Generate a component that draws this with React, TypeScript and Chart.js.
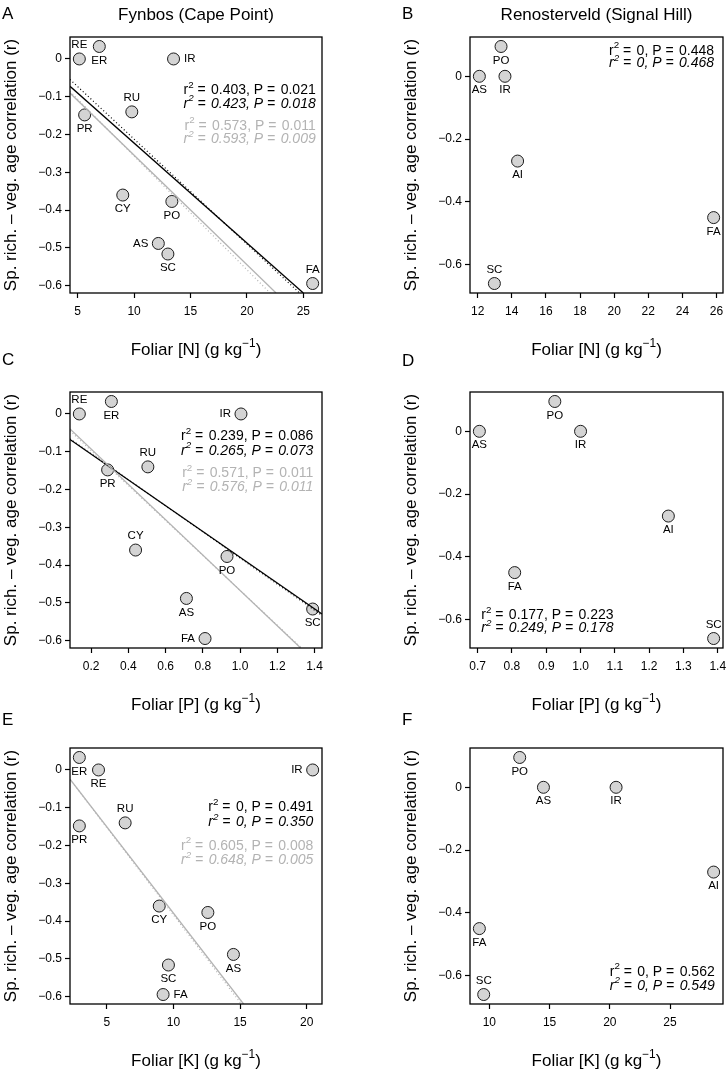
import React, { useEffect, useRef } from "react";
import { Chart, registerables } from "chart.js";
Chart.register(...registerables);

const FONT = '"Liberation Sans", Arial, Helvetica, sans-serif';
const GRAY = "#b3b3b3";

// ---------------- DATA ----------------
// Fynbos (Cape Point)
const fynTaxa = ["RE", "ER", "IR", "RU", "PR", "CY", "PO", "AS", "SC", "FA"];
const fynN = [5.15, 6.92, 13.5, 9.8, 5.62, 9.0, 13.35, 12.15, 13.0, 25.83];
const fynP = [0.137, 0.309, 1.005, 0.505, 0.289, 0.439, 0.93, 0.712, 1.39, 0.812];
const fynK = [4.37, 2.93, 20.45, 6.37, 2.93, 8.93, 12.58, 14.5, 9.62, 9.22];
const fynR = [0, 0.033, 0, -0.14, -0.148, -0.36, -0.377, -0.488, -0.516, -0.594];

// Renosterveld (Signal Hill)
const renTaxa = ["PO", "AS", "IR", "AI", "FA", "SC"];
const renN = [13.37, 12.1, 13.6, 14.34, 25.83, 12.98];
const renP = [0.925, 0.705, 1.0, 1.256, 0.808, 1.388];
const renK = [12.52, 14.49, 20.52, 28.62, 9.17, 9.53];
const renR = [0.095, 0, 0, -0.27, -0.45, -0.66];

// regression fits [intercept, slope]
const fitN_all = [0.042, -0.02644];
const fitN_allAlt = [0.0657, -0.02776];
const fitN_sub = [0.035, -0.02896];
const fitN_subAlt = [0.0438, -0.03006];
const fitP_all = [-0.038, -0.3412];
const fitP_allAlt = [-0.036, -0.345];
const fitP_sub = [0.0012, -0.468];
const fitP_subAlt = [-0.0043, -0.4622];
const fitK_sub = [0.0771, -0.04562];
const fitK_subAlt = [0.0784, -0.0462];

// statistics [r2, P]
const statA = [[0.403, 0.021], [0.423, 0.018], [0.573, 0.011], [0.593, 0.009]];
const statB = [[0, 0.448], [0, 0.468]];
const statC = [[0.239, 0.086], [0.265, 0.073], [0.571, 0.011], [0.576, 0.011]];
const statD = [[0.177, 0.223], [0.249, 0.178]];
const statE = [[0, 0.491], [0, 0.35], [0.605, 0.008], [0.648, 0.005]];
const statF = [[0, 0.562], [0, 0.549]];

// tick values
const xTicksA = [5, 10, 15, 20, 25];
const xTicksB = [12, 14, 16, 18, 20, 22, 24, 26];
const xTicksC = [0.2, 0.4, 0.6, 0.8, 1.0, 1.2, 1.4];
const xTicksD = [0.7, 0.8, 0.9, 1.0, 1.1, 1.2, 1.3, 1.4];
const xTicksE = [5, 10, 15, 20];
const xTicksF = [10, 15, 20, 25];
const yTicksFyn = [0, -0.1, -0.2, -0.3, -0.4, -0.5, -0.6];
const yTicksRen = [0, -0.2, -0.4, -0.6];

// ---------------- LAYOUT ----------------
type Pos = "a" | "b" | "l" | "r";
const posA: Pos[] = ["a", "b", "r", "a", "b", "b", "b", "l", "b", "a"];
const posC: Pos[] = ["a", "b", "l", "a", "b", "a", "b", "b", "b", "l"];
const posE: Pos[] = ["b", "b", "l", "a", "b", "b", "b", "b", "b", "r"];
const posRen: Pos[] = ["b", "b", "b", "b", "b", "a"];

const COLS = [
  { canvasLeft: 0, width: 364, boxL: 70, boxR: 322, letterX: 2, yTitleX: 9.5 },
  { canvasLeft: 364, width: 380, boxL: 470, boxR: 723, letterX: 402, yTitleX: 409.5 },
];
const ROWS = [
  { canvasTop: 0, height: 365, boxT: 37, boxB: 293 },
  { canvasTop: 340, height: 378, boxT: 392, boxB: 648 },
  { canvasTop: 695, height: 374, boxT: 748, boxB: 1004 },
];
const Y_AXIS_W = 40;
const X_AXIS_H = 30;

type Seg = { t: string; sup?: boolean; dx?: number };

function drawRich(
  ctx: CanvasRenderingContext2D,
  segs: Seg[],
  x: number,
  y: number,
  align: "left" | "right" | "center",
  size: number,
  italic: boolean,
  color: string
) {
  const f = (s: number) => `${italic ? "italic " : ""}${s}px ${FONT}`;
  ctx.save();
  ctx.fillStyle = color;
  ctx.textAlign = "left";
  ctx.textBaseline = "alphabetic";
  let w = 0;
  const widths = segs.map((sg) => {
    ctx.font = f(sg.sup ? size * 0.7 : size);
    const m = ctx.measureText(sg.t).width + (sg.dx || 0);
    w += m;
    return m;
  });
  let cx = align === "left" ? x : align === "right" ? x - w : x - w / 2;
  segs.forEach((sg, i) => {
    ctx.font = f(sg.sup ? size * 0.7 : size);
    ctx.fillText(sg.t, cx, sg.sup ? y - size * 0.45 : y);
    cx += widths[i];
  });
  ctx.restore();
}

function fmtStat(v: number) {
  return v === 0 ? "0" : v.toFixed(3);
}
function statSegs(r2: number, p: number): Seg[] {
  return [
    { t: "r" },
    { t: "2", sup: true },
    { t: " = ", dx: 1.5 },
    { t: `${fmtStat(r2)}, P` },
    { t: " = ", dx: 1.5 },
    { t: p.toFixed(3) },
  ];
}

function ext(vals: number[]) {
  const lo = Math.min(...vals);
  const hi = Math.max(...vals);
  const d = (hi - lo) * 0.04;
  return [lo - d, hi + d];
}

function fitLine(coef: number[], xr: number[], yr: number[]) {
  const [a, b] = coef;
  const cand: { x: number; y: number }[] = [];
  for (const x of xr) {
    const y = a + b * x;
    if (y >= yr[0] - 1e-9 && y <= yr[1] + 1e-9) cand.push({ x, y });
  }
  for (const y of yr) {
    const x = (y - a) / b;
    if (x >= xr[0] && x <= xr[1]) cand.push({ x, y });
  }
  cand.sort((p, q) => p.x - q.x);
  return [cand[0], cand[cand.length - 1]];
}

function fmtTick(v: number, dec: number) {
  if (Math.abs(v) < 1e-9) return "0";
  const s = v.toFixed(dec);
  return s.replace("-", "\u2212");
}

interface FitDef {
  coef: number[];
  color: string;
  dash: number[];
  width: number;
}
interface PanelDef {
  col: number;
  row: number;
  letter: string;
  letterBaseline: number;
  title?: string;
  titleBaseline?: number;
  elem: string;
  xs: number[];
  ys: number[];
  taxa: string[];
  pos: Pos[];
  xTicks: number[];
  xDec: number;
  yTicks: number[];
  fits: FitDef[];
  stats: number[][];
  statAlign: "left" | "right";
  statX: number;
  statYs: number[];
}

const blackSolid = (c: number[]): FitDef => ({ coef: c, color: "#000", dash: [], width: 1.3 });
const blackDot = (c: number[]): FitDef => ({ coef: c, color: "#000", dash: [1, 2.5], width: 1.2 });
const graySolid = (c: number[]): FitDef => ({ coef: c, color: GRAY, dash: [], width: 1.3 });
const grayDot = (c: number[]): FitDef => ({ coef: c, color: GRAY, dash: [1, 2.5], width: 1.2 });

const PANELS: PanelDef[] = [
  {
    col: 0, row: 0, letter: "A", letterBaseline: 18.5, title: "Fynbos (Cape Point)", titleBaseline: 19.5,
    elem: "N", xs: fynN, ys: fynR, taxa: fynTaxa, pos: posA, xTicks: xTicksA, xDec: 0, yTicks: yTicksFyn,
    fits: [grayDot(fitN_subAlt), graySolid(fitN_sub), blackDot(fitN_allAlt), blackSolid(fitN_all)],
    stats: statA, statAlign: "right", statX: 315.7, statYs: [94.2, 107.7, 129.7, 143.2],
  },
  {
    col: 1, row: 0, letter: "B", letterBaseline: 18.5, title: "Renosterveld (Signal Hill)", titleBaseline: 20,
    elem: "N", xs: renN, ys: renR, taxa: renTaxa, pos: posRen, xTicks: xTicksB, xDec: 0, yTicks: yTicksRen,
    fits: [], stats: statB, statAlign: "right", statX: 714, statYs: [54.7, 67.4],
  },
  {
    col: 0, row: 1, letter: "C", letterBaseline: 365,
    elem: "P", xs: fynP, ys: fynR, taxa: fynTaxa, pos: posC, xTicks: xTicksC, xDec: 1, yTicks: yTicksFyn,
    fits: [grayDot(fitP_subAlt), graySolid(fitP_sub), blackDot(fitP_allAlt), blackSolid(fitP_all)],
    stats: statC, statAlign: "right", statX: 313.3, statYs: [440.4, 454.7, 477.4, 491.4],
  },
  {
    col: 1, row: 1, letter: "D", letterBaseline: 366,
    elem: "P", xs: renP, ys: renR, taxa: renTaxa, pos: posRen, xTicks: xTicksD, xDec: 1, yTicks: yTicksRen,
    fits: [], stats: statD, statAlign: "left", statX: 481.3, statYs: [619, 632],
  },
  {
    col: 0, row: 2, letter: "E", letterBaseline: 725,
    elem: "K", xs: fynK, ys: fynR, taxa: fynTaxa, pos: posE, xTicks: xTicksE, xDec: 0, yTicks: yTicksFyn,
    fits: [grayDot(fitK_subAlt), graySolid(fitK_sub)],
    stats: statE, statAlign: "right", statX: 313.3, statYs: [811.4, 826.4, 849.7, 864],
  },
  {
    col: 1, row: 2, letter: "F", letterBaseline: 725,
    elem: "K", xs: renK, ys: renR, taxa: renTaxa, pos: posRen, xTicks: xTicksF, xDec: 0, yTicks: yTicksRen,
    fits: [], stats: statF, statAlign: "right", statX: 714.7, statYs: [975.7, 989.7],
  },
];

function PanelChart({ p }: { p: PanelDef }) {
  const ref = useRef<HTMLCanvasElement>(null);
  const col = COLS[p.col];
  const row = ROWS[p.row];
  useEffect(() => {
    const xr = ext(p.xs);
    const yr = ext(p.ys);
    const ox = col.canvasLeft;
    const oy = row.canvasTop;

    const lineSets = p.fits.map((f) => ({
      type: "scatter" as const,
      data: fitLine(f.coef, xr, yr),
      showLine: true,
      borderColor: f.color,
      borderWidth: f.width,
      borderDash: f.dash,
      pointRadius: 0,
      fill: false,
      order: 0,
    }));
    const pointSet = {
      type: "scatter" as const,
      data: p.xs.map((x, i) => ({ x, y: p.ys[i] })),
      pointRadius: 6,
      pointBackgroundColor: "#d4d4d4",
      pointBorderColor: "#1a1a1a",
      pointBorderWidth: 1,
      order: 1,
    };

    const overlay = {
      id: "overlay",
      afterDraw(chart: any) {
        const ctx: CanvasRenderingContext2D = chart.ctx;
        const ca = chart.chartArea;
        // box
        ctx.save();
        ctx.strokeStyle = "#000";
        ctx.lineWidth = 1.3;
        ctx.strokeRect(ca.left, ca.top, ca.right - ca.left, ca.bottom - ca.top);
        ctx.restore();
        // point labels
        const meta = chart.getDatasetMeta(chart.data.datasets.length - 1);
        ctx.save();
        ctx.font = `11.5px ${FONT}`;
        ctx.fillStyle = "#000";
        meta.data.forEach((el: any, i: number) => {
          const ps = p.pos[i];
          const t = p.taxa[i];
          if (ps === "a") {
            ctx.textAlign = "center"; ctx.textBaseline = "middle";
            ctx.fillText(t, el.x, el.y - 14);
          } else if (ps === "b") {
            ctx.textAlign = "center"; ctx.textBaseline = "middle";
            ctx.fillText(t, el.x, el.y + 14);
          } else if (ps === "l") {
            ctx.textAlign = "right"; ctx.textBaseline = "middle";
            ctx.fillText(t, el.x - 10, el.y);
          } else {
            ctx.textAlign = "left"; ctx.textBaseline = "middle";
            ctx.fillText(t, el.x + 10.5, el.y);
          }
        });
        ctx.restore();
        // stats
        p.stats.forEach((s, i) => {
          const italic = i % 2 === 1;
          const color = i >= 2 ? GRAY : "#000";
          drawRich(ctx, statSegs(s[0], s[1]), p.statX - ox, p.statYs[i] - oy, p.statAlign, 14, italic, color);
        });
        // panel letter
        ctx.save();
        ctx.font = `17px ${FONT}`;
        ctx.fillStyle = "#000";
        ctx.textAlign = "left";
        ctx.textBaseline = "alphabetic";
        ctx.fillText(p.letter, col.letterX - ox, p.letterBaseline - oy);
        if (p.title) {
          ctx.textAlign = "center";
          ctx.fillText(p.title, (ca.left + ca.right) / 2, (p.titleBaseline as number) - oy);
        }
        ctx.restore();
        // x title
        drawRich(
          ctx,
          [{ t: `Foliar [${p.elem}] (g kg` }, { t: "\u22121", sup: true }, { t: ")" }],
          (ca.left + ca.right) / 2,
          row.boxB + 62 - oy,
          "center",
          17,
          false,
          "#000"
        );
        // y title
        ctx.save();
        ctx.translate(col.yTitleX - ox + 17 * 0.36, (ca.top + ca.bottom) / 2);
        ctx.rotate(-Math.PI / 2);
        ctx.font = `17px ${FONT}`;
        ctx.fillStyle = "#000";
        ctx.textAlign = "center";
        ctx.textBaseline = "alphabetic";
        ctx.fillText("Sp. rich. \u2013 veg. age correlation (r)", 0, 0);
        ctx.restore();
      },
    };

    const tickFont = { family: FONT, size: 12 };
    const chart = new Chart(ref.current as HTMLCanvasElement, {
      type: "scatter",
      data: { datasets: [...lineSets, pointSet] as any },
      options: {
        animation: false,
        responsive: false,
        events: [],
        layout: {
          padding: {
            left: col.boxL - col.canvasLeft - Y_AXIS_W,
            right: col.width - (col.boxR - col.canvasLeft),
            top: row.boxT - row.canvasTop,
            bottom: row.height - (row.boxB - row.canvasTop) - X_AXIS_H,
          },
        },
        plugins: { legend: { display: false }, tooltip: { enabled: false }, title: { display: false } },
        scales: {
          x: {
            type: "linear",
            min: xr[0],
            max: xr[1],
            afterBuildTicks: (s: any) => {
              s.ticks = p.xTicks.map((v) => ({ value: v }));
            },
            afterFit: (s: any) => {
              s.height = X_AXIS_H;
            },
            ticks: {
              callback: (v: any) => fmtTick(Number(v), p.xDec),
              font: tickFont,
              color: "#000",
              padding: 6.5,
              maxRotation: 0,
              autoSkip: false,
            },
            grid: { display: true, drawOnChartArea: false, drawTicks: true, tickLength: 5, tickColor: "#000", tickWidth: 1.2, color: "#000" },
            border: { display: false },
          },
          y: {
            type: "linear",
            min: yr[0],
            max: yr[1],
            afterBuildTicks: (s: any) => {
              s.ticks = p.yTicks.map((v) => ({ value: v }));
            },
            afterFit: (s: any) => {
              s.width = Y_AXIS_W;
            },
            ticks: {
              callback: (v: any) => fmtTick(Number(v), 1),
              font: tickFont,
              color: "#000",
              padding: 3,
              autoSkip: false,
            },
            grid: { display: true, drawOnChartArea: false, drawTicks: true, tickLength: 5, tickColor: "#000", tickWidth: 1.2, color: "#000" },
            border: { display: false },
          },
        },
      } as any,
      plugins: [overlay],
    });
    return () => chart.destroy();
  }, []);
  return (
    <canvas
      ref={ref}
      width={col.width}
      height={row.height}
      style={{
        position: "absolute",
        left: col.canvasLeft,
        top: row.canvasTop,
        width: col.width,
        height: row.height,
      }}
    />
  );
}

export default function App() {
  return (
    <div
      style={{
        position: "absolute",
        left: 0,
        top: 0,
        width: 728,
        height: 1069,
        overflow: "hidden",
        background: "#fff",
      }}
    >
      {PANELS.map((p, i) => (
        <PanelChart key={i} p={p} />
      ))}
    </div>
  );
}
